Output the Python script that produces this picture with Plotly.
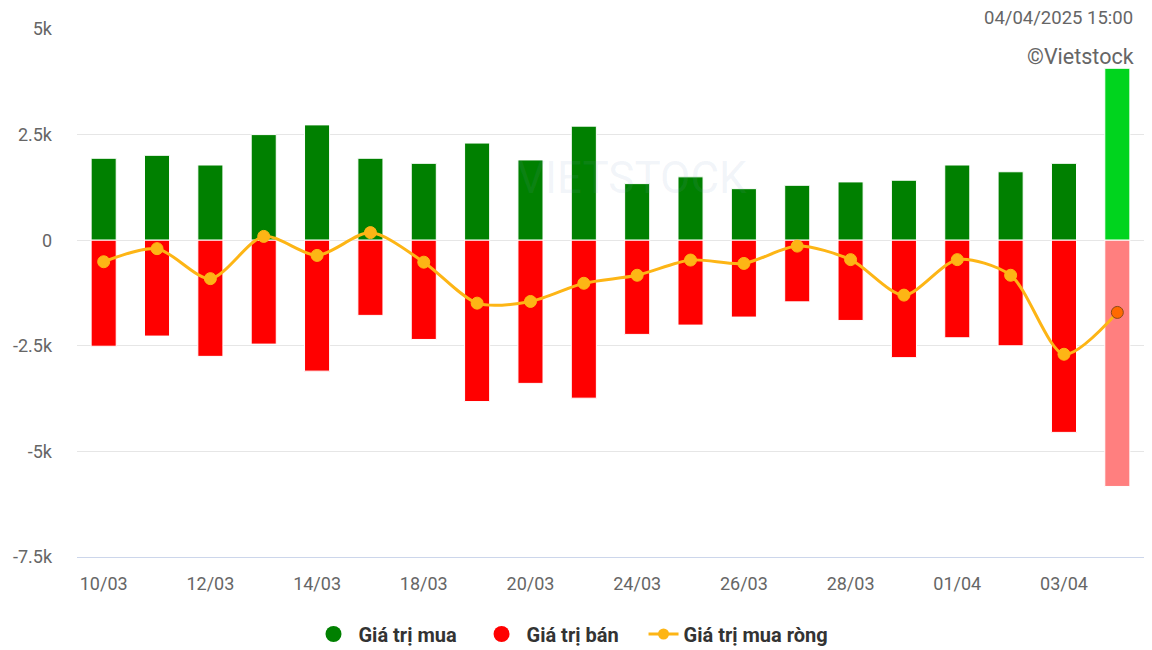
import plotly.graph_objects as go

dates = ["10/03", "11/03", "12/03", "13/03", "14/03", "17/03", "18/03", "19/03", "20/03", "21/03",
         "24/03", "25/03", "26/03", "27/03", "28/03", "31/03", "01/04", "02/04", "03/04", "04/04"]
buy = [1940, 2010, 1780, 2500, 2730, 1940, 1820, 2300, 1900, 2700,
       1340, 1500, 1220, 1300, 1380, 1420, 1780, 1620, 1820, 4070]
sell = [-2510, -2270, -2750, -2460, -3100, -1780, -2350, -3820, -3390, -3740,
        -2230, -2010, -1820, -1460, -1900, -2780, -2310, -2500, -4550, -5830]
net = [-510, -200, -910, 90, -360, 180, -520, -1490, -1450, -1020,
       -830, -470, -550, -140, -460, -1300, -460, -830, -2700, -1710]
ytick_vals = [5000, 2500, 0, -2500, -5000, -7500]
ytick_text = ["5k", "2.5k", "0", "-2.5k", "-5k", "-7.5k"]
xtick_labels = dates[::2]

FONT = "Roboto, Arial, sans-serif"
n = len(dates)
buy_colors = ["#008000"] * (n - 1) + ["#00D41E"]
sell_colors = ["#FF0000"] * (n - 1) + ["#FF7F7F"]
net_colors = ["#FDB515"] * (n - 1) + ["#FF6A00"]
net_line_colors = ["#FDB515"] * (n - 1) + ["#8B4A1A"]
NB = "\u00a0"

fig = go.Figure()
fig.add_trace(go.Bar(x=dates, y=buy, marker=dict(color=buy_colors, line=dict(color="white", width=1)),
                     showlegend=False, name="Giá trị mua"))
fig.add_trace(go.Bar(x=dates, y=sell, marker=dict(color=sell_colors, line=dict(color="white", width=1)),
                     showlegend=False, name="Giá trị bán"))
fig.add_trace(go.Scatter(x=dates, y=net, mode="lines+markers", name="Giá trị mua ròng",
                         line=dict(color="#FDB515", width=3, shape="spline", smoothing=0.8),
                         marker=dict(size=12, color=net_colors, line=dict(color=net_line_colors, width=1)),
                         showlegend=False))
# legend entries
fig.add_trace(go.Scatter(x=[None], y=[None], mode="markers", name=NB + "Giá trị mua" + NB * 4,
                         marker=dict(symbol="circle", size=19, color="#008000")))
fig.add_trace(go.Scatter(x=[None], y=[None], mode="markers", name=NB + "Giá trị bán" + NB * 4,
                         marker=dict(symbol="circle", size=19, color="#FF0000")))
fig.add_trace(go.Scatter(x=[None], y=[None], mode="lines+markers", name="Giá trị mua ròng",
                         line=dict(color="#FDB515", width=3),
                         marker=dict(size=11, color="#FDB515")))

W, H = 1144, 650
T, B = 21, 101
PH = H - T - B  # plot height in px (528)
fig.update_layout(
    width=W, height=H,
    margin=dict(l=69, r=8, t=T, b=B),
    paper_bgcolor="white", plot_bgcolor="white",
    barmode="relative", bargap=0.53,
    font=dict(family=FONT, color="#666666", size=18),
    showlegend=True,
    legend=dict(orientation="h", x=(313.5 - 77) / 1067, xanchor="left",
                yref="container", y=(H - 626) / H, yanchor="middle",
                font=dict(family=FONT, size=20, color="#333333", weight="bold"), itemwidth=30,
                traceorder="normal"),
    xaxis=dict(type="category", tickmode="array", tickvals=xtick_labels, ticktext=xtick_labels,
               showgrid=False, showline=True, linecolor="#ccd6eb", linewidth=1, automargin=False,
               ticks="", tickfont=dict(size=18, color="#666666"), range=[-0.5, n - 0.5],
               ticklabelstandoff=10),
    yaxis=dict(range=[-7500, 5000], tickmode="array", tickvals=ytick_vals, ticktext=ytick_text,
               showgrid=True, gridcolor="#e6e6e6", gridwidth=1, zeroline=True, zerolinecolor="#e6e6e6",
               zerolinewidth=1, tickfont=dict(size=18, color="#666666"), ticklabelstandoff=24,
               automargin=False),
    annotations=[
        dict(text="04/04/2025 15:00", xref="paper", yref="paper", x=1.0, xanchor="right",
             y=1 + 11 / PH, yanchor="middle", showarrow=False, xshift=-9,
             font=dict(family=FONT, size=18.5, color="#666666")),
        dict(text="©Vietstock", xref="paper", yref="paper", x=1.0, xanchor="right",
             y=1 - 27 / PH, yanchor="middle", showarrow=False, xshift=-8,
             font=dict(family=FONT, size=21.5, color="#666666")),
        dict(text="VIETSTOCK", xref="paper", yref="paper", x=0.52, y=0.77, showarrow=False,
             font=dict(family=FONT, size=44, color="rgba(120,150,200,0.10)")),
    ],
)
fig.write_html("out.html")
